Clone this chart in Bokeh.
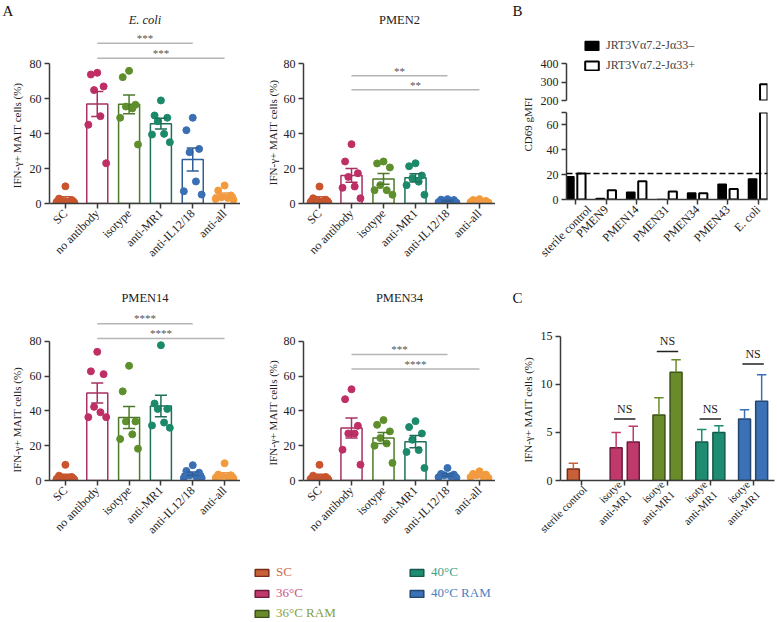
import numpy as np
from math import pi
from bokeh.plotting import figure
from bokeh.layouts import row, column
from bokeh.models import FactorRange, Range1d, Span, Legend, LegendItem, FixedTicker
from bokeh.core.properties import value
from bokeh.embed import file_html
from bokeh.resources import INLINE

FONT = "Liberation Serif"
AXIS_COL = "#3a3a3a"
TXT = "#222222"
NAN = float("nan")

# ---------------- Panel A data ----------------
conditions = ["SC", "no antibody", "isotype", "anti-MR1", "anti-IL12/18", "anti-all"]

ecoli_sc = [9.8, 2.8, 2.0, 1.5, 1.0, 0.8, 0.5]
ecoli_no_antibody = [74.7, 73.7, 66.9, 64.8, 49.9, 45.0, 23.0]
ecoli_isotype = [75.8, 72.2, 56.4, 55.4, 54.3, 49.0, 33.7]
ecoli_anti_mr1 = [58.9, 50.3, 49.0, 47.0, 39.8, 39.4, 35.0]
ecoli_anti_il12_18 = [49.0, 41.9, 31.2, 29.3, 12.6, 7.0, 5.1]
ecoli_anti_all = [10.3, 7.4, 4.6, 3.6, 3.2, 2.7, 2.1]
ecoli_sig = [("no antibody", "anti-IL12/18", 91.6, "***"),
             ("no antibody", "anti-all", 83.0, "***")]

pmen2_sc = [9.7, 3.0, 2.2, 1.6, 1.2, 0.8, 0.5]
pmen2_no_antibody = [33.9, 24.0, 17.3, 15.2, 9.7, 9.0, 3.0]
pmen2_isotype = [24.0, 22.9, 20.6, 10.5, 7.6, 7.6, 5.0]
pmen2_anti_mr1 = [23.0, 21.3, 16.0, 14.5, 12.5, 10.5, 5.0]
pmen2_anti_il12_18 = [2.5, 2.2, 2.0, 1.5, 1.0, 0.8, 0.5]
pmen2_anti_all = [2.5, 2.0, 1.5, 1.2, 1.0, 0.8, 0.5]
pmen2_sig = [("no antibody", "anti-IL12/18", 73.0, "**"),
             ("no antibody", "anti-all", 65.0, "**")]

pmen14_sc = [9.0, 2.8, 2.0, 1.5, 1.0, 0.8, 0.5]
pmen14_no_antibody = [73.9, 62.7, 61.1, 42.3, 39.2, 36.4, 36.4]
pmen14_isotype = [65.9, 51.2, 33.9, 33.9, 26.5, 23.8, 18.3]
pmen14_anti_mr1 = [77.7, 44.2, 41.1, 41.1, 33.3, 31.6, 30.3]
pmen14_anti_il12_18 = [8.8, 5.5, 4.5, 3.0, 2.5, 1.5, 1.5]
pmen14_anti_all = [9.9, 3.4, 3.0, 2.5, 1.9, 1.5, 1.1]
pmen14_sig = [("no antibody", "anti-IL12/18", 90.1, "****"),
              ("no antibody", "anti-all", 81.5, "****")]

pmen34_sc = [9.0, 2.8, 2.0, 1.5, 1.0, 0.8, 0.5]
pmen34_no_antibody = [52.4, 46.7, 31.4, 27.0, 27.0, 17.7, 9.1]
pmen34_isotype = [34.7, 32.0, 28.2, 24.4, 21.3, 20.0, 10.1]
pmen34_anti_mr1 = [34.1, 30.7, 27.0, 23.4, 17.5, 16.4, 7.2]
pmen34_anti_il12_18 = [7.2, 3.8, 3.4, 3.0, 2.5, 1.9, 1.5]
pmen34_anti_all = [5.3, 3.8, 3.4, 3.0, 2.5, 1.9, 1.5]
pmen34_sig = [("no antibody", "anti-IL12/18", 72.4, "***"),
              ("no antibody", "anti-all", 64.0, "****")]

a_ticks = [0, 20, 40, 60, 80]
A_DOT = ["#c9542d", "#bf2f66", "#5f8f2c", "#1b8a6b", "#3a6fb4", "#f39b3c"]
A_LINE = ["#c4562f", "#a83064", "#4d7a2a", "#1f6f58", "#2f5f9a", "#ef9a4a"]
JITTER = [0.0, -0.2, 0.2, -0.1, 0.1, -0.28, 0.28]
Y_LABEL = "IFN-γ+ MAIT cells (%)"

# ---------------- Panel B data ----------------
b_strains = ["sterile control", "PMEN9", "PMEN14", "PMEN31", "PMEN34", "PMEN43", "E. coli"]
b_negative = [18.4, 0.8, 5.9, 0.0, 5.3, 12.3, 16.5]
b_positive = [21.0, 7.5, 14.7, 6.4, 5.0, 8.5, 288.0]
b_threshold = 21.0
b_low_ticks = [0, 20, 40, 60, 70]
b_high_ticks = [200, 300, 400]
b_break = 200

# ---------------- Panel C data ----------------
c_groups = ["sterile control", "36°C", "36°C RAM", "40°C", "40°C RAM"]
c_tick_labels = ["sterile control", "isotye\nanti-MR1", "isotye\nanti-MR1",
                 "isotye\nanti-MR1", "isotye\nanti-MR1"]
c_isotype = [1.2, 3.4, 6.8, 4.0, 6.4]
c_isotype_err = [0.6, 1.6, 1.8, 1.3, 0.95]
c_mr1_groups = ["36°C", "36°C RAM", "40°C", "40°C RAM"]
c_anti_mr1 = [4.0, 11.25, 5.0, 8.25]
c_anti_mr1_err = [1.65, 1.3, 0.7, 2.75]
c_ns = [("36°C", 6.4), ("36°C RAM", 13.4), ("40°C", 6.4), ("40°C RAM", 12.1)]
c_ticks = [0, 5, 10, 15]
C_FILL = ["#c8603a", "#c0396b", "#6a8b2c", "#1d8c70", "#3b71b6"]
C_LINE = ["#7a2a16", "#6d1b3d", "#3a5318", "#14594a", "#244670"]

legend_labels = ["SC", "36°C", "36°C RAM", "40°C", "40°C RAM"]
LEGEND_TEXT = ["#cd6b4c", "#d0507f", "#88a040", "#3f9f85", "#4a7fc2"]

# layout: shared borders per row so that plots in a row line up identically
ROW1_H, ROW1_TOP, ROW1_BOT = 286, 0, 83
ROW2_H, ROW2_TOP, ROW2_BOT = 258, 3, 63
LEG_H = 78


def style(p, size="12px"):
    p.xgrid.visible = False
    p.ygrid.visible = False
    p.outline_line_color = None
    p.background_fill_color = "white"
    p.border_fill_color = "white"
    for ax in p.axis:
        ax.axis_line_color = AXIS_COL
        ax.axis_line_width = 1.5
        ax.major_tick_line_color = AXIS_COL
        ax.major_tick_line_width = 1.5
        ax.major_tick_in = 0
        ax.major_tick_out = 5
        ax.minor_tick_line_color = None
        ax.major_label_text_font = FONT
        ax.major_label_text_font_size = size
        ax.major_label_text_color = TXT
        ax.major_label_standoff = 3


def gutter(w, h, top, bot, texts):
    """Narrow text-only strip holding panel letters and y-axis titles (1 unit = 1 px)."""
    g = figure(width=w, height=h, x_range=Range1d(0, w), y_range=Range1d(bot, h - top),
               output_backend="svg", toolbar_location=None,
               min_border_left=0, min_border_right=0, min_border_top=top, min_border_bottom=bot,
               x_axis_location=None, y_axis_location=None)
    g.outline_line_color = None
    g.grid.visible = False
    for txt, x, y_from_top, kind in texts:
        if kind == "letter":
            g.text(x=[x], y=[h - y_from_top], text=[txt], text_font=value(FONT),
                   text_font_size="15px", text_align="left", text_baseline="middle",
                   text_color="#111111")
        else:
            g.text(x=[x], y=[h - y_from_top], text=[txt], angle=pi / 2,
                   text_font=value(FONT), text_font_size="11px", text_align="center",
                   text_baseline="middle", text_color=TXT)
    return g


def panel_a(title, italic, vals, sig, width, height, left, top, bottom, ymax):
    p = figure(x_range=FactorRange(factors=conditions, range_padding=0),
               y_range=Range1d(0, ymax), width=width, height=height,
               output_backend="svg", toolbar_location=None,
               min_border_left=left, min_border_right=0,
               min_border_top=top, min_border_bottom=bottom)
    style(p)
    means = [float(np.mean(v)) for v in vals]
    sems = [float(np.std(v, ddof=1) / np.sqrt(len(v))) for v in vals]
    p.vbar(x=conditions, top=means, width=0.66, fill_color="white",
           line_color=A_LINE, line_width=1.5)
    xs, ys, cs = [], [], []
    for cat, v, col in zip(conditions, vals, A_DOT):
        order = np.argsort(v)[::-1]
        for rank, idx in enumerate(order):
            xs.append((cat, JITTER[rank]))
            ys.append(v[idx])
            cs.append(col)
    p.scatter(x=xs, y=ys, size=7, fill_color=cs, line_color=cs)
    lo = [m - s for m, s in zip(means, sems)]
    hi = [m + s for m, s in zip(means, sems)]
    p.segment(x0=[(c, 0) for c in conditions], x1=[(c, 0) for c in conditions],
              y0=lo, y1=hi, line_color=A_LINE, line_width=1.5)
    for yy in (lo, hi):
        p.segment(x0=[(c, -0.19) for c in conditions], x1=[(c, 0.19) for c in conditions],
                  y0=yy, y1=yy, line_color=A_LINE, line_width=1.5)
    for a, b, yv, stars in sig:
        ia, ib = conditions.index(a), conditions.index(b)
        p.segment(x0=[(a, 0)], x1=[(b, 0)], y0=[yv], y1=[yv],
                  line_color="#b5b5b5", line_width=1.5)
        p.text(x=[(a, (ib - ia) / 2)], y=[yv + 3.0], text=[stars],
               text_font=value(FONT), text_font_size="11px", text_color="#555555",
               text_align="center", text_baseline="middle")
    p.text(x=[("isotype", 0.5)], y=[104.6], text=[title], text_font=value(FONT),
           text_font_size="12.5px", text_font_style="italic" if italic else "normal",
           text_align="center", text_baseline="middle", text_color=TXT)
    p.yaxis.bounds = (0, 80)
    p.yaxis.ticker = FixedTicker(ticks=a_ticks)
    p.xaxis.major_label_orientation = pi / 4
    return p


PX_PER_PCT = 1.75
ymax1 = (ROW1_H - ROW1_TOP - ROW1_BOT) / PX_PER_PCT
ymax2 = (ROW2_H - ROW2_TOP - ROW2_BOT) / PX_PER_PCT

A1 = panel_a("E. coli", True,
             [ecoli_sc, ecoli_no_antibody, ecoli_isotype, ecoli_anti_mr1, ecoli_anti_il12_18, ecoli_anti_all],
             ecoli_sig, 214, ROW1_H, 22, ROW1_TOP, ROW1_BOT, ymax1)
A2 = panel_a("PMEN2", False,
             [pmen2_sc, pmen2_no_antibody, pmen2_isotype, pmen2_anti_mr1, pmen2_anti_il12_18, pmen2_anti_all],
             pmen2_sig, 215, ROW1_H, 23, ROW1_TOP, ROW1_BOT, ymax1)
A3 = panel_a("PMEN14", False,
             [pmen14_sc, pmen14_no_antibody, pmen14_isotype, pmen14_anti_mr1, pmen14_anti_il12_18, pmen14_anti_all],
             pmen14_sig, 214, ROW2_H, 22, ROW2_TOP, ROW2_BOT, ymax2)
A4 = panel_a("PMEN34", False,
             [pmen34_sc, pmen34_no_antibody, pmen34_isotype, pmen34_anti_mr1, pmen34_anti_il12_18, pmen34_anti_all],
             pmen34_sig, 215, ROW2_H, 23, ROW2_TOP, ROW2_BOT, ymax2)

# ---------------- Panel B (broken axis: two stacked plots) ----------------
b_xr = FactorRange(factors=b_strains, range_padding=-0.2, range_padding_units="absolute")

B_up = figure(x_range=b_xr, y_range=Range1d(200, 578.4), width=240, height=106,
              output_backend="svg", toolbar_location=None, x_axis_location=None,
              min_border_left=26, min_border_right=10, min_border_top=30, min_border_bottom=6)
style(B_up)
B_up.yaxis.bounds = (200, 400)
B_up.yaxis.ticker = FixedTicker(ticks=b_high_ticks)
up_neg = [v if v > b_break else NAN for v in b_negative]
up_pos = [v if v > b_break else NAN for v in b_positive]
rn_up = B_up.vbar(x=[(s, -0.19) for s in b_strains], top=up_neg, width=0.27,
                  fill_color="black", line_color="black", line_width=1.5)
rp_up = B_up.vbar(x=[(s, 0.19) for s in b_strains], top=up_pos, width=0.27,
                  fill_color="white", line_color="black", line_width=2)
B_up.add_layout(Legend(items=[LegendItem(label="JRT3Vα7.2-Jα33–", renderers=[rn_up]),
                              LegendItem(label="JRT3Vα7.2-Jα33+", renderers=[rp_up])],
                       location=(17, 27), padding=0, margin=0, spacing=4,
                       glyph_width=17, glyph_height=11, label_height=16, label_standoff=6,
                       label_text_font=FONT, label_text_font_size="12px",
                       border_line_color=None, background_fill_alpha=0))

B_low = figure(x_range=b_xr, y_range=Range1d(0, 70), width=240, height=180,
               output_backend="svg", toolbar_location=None,
               min_border_left=26, min_border_right=10, min_border_top=6, min_border_bottom=87)
style(B_low)
B_low.yaxis.bounds = (0, 70)
B_low.yaxis.ticker = FixedTicker(ticks=b_low_ticks)
B_low.yaxis.major_label_overrides = {70: ""}
B_low.vbar(x=[(s, -0.19) for s in b_strains], top=b_negative, width=0.27,
           fill_color="black", line_color="black", line_width=1.5)
B_low.vbar(x=[(s, 0.19) for s in b_strains], top=b_positive, width=0.27,
           fill_color="white", line_color="black", line_width=2)
B_low.add_layout(Span(location=b_threshold, dimension="width", line_color="black",
                      line_width=1.5, line_dash="6 3"))
B_low.xaxis.major_label_orientation = pi / 4

# ---------------- Panel C ----------------
n_c = len(c_groups)
c_ymax = (ROW2_H - ROW2_TOP - ROW2_BOT) / 9.67
C = figure(x_range=Range1d(-0.5, n_c - 0.5), y_range=Range1d(0, c_ymax),
           width=240, height=ROW2_H, output_backend="svg", toolbar_location=None,
           min_border_left=22, min_border_right=3, min_border_top=ROW2_TOP,
           min_border_bottom=ROW2_BOT)
style(C)
C.yaxis.bounds = (0, 15)
C.yaxis.ticker = FixedTicker(ticks=c_ticks)
C.xaxis.ticker = FixedTicker(ticks=list(range(n_c)))
C.xaxis.major_label_overrides = {i: lab for i, lab in enumerate(c_tick_labels)}
C.xaxis.major_label_orientation = pi / 4
C.xaxis.major_label_text_font_size = "11px"
C.xaxis.major_label_standoff = 2
gi = {g: i for i, g in enumerate(c_groups)}
iso_x = [gi[g] - 0.2 for g in c_groups]
mr1_x = [gi[g] + 0.2 for g in c_mr1_groups]
mr1_fill = [C_FILL[gi[g]] for g in c_mr1_groups]
mr1_line = [C_LINE[gi[g]] for g in c_mr1_groups]
C.vbar(x=iso_x, top=c_isotype, width=0.28, fill_color=C_FILL, line_color=C_LINE, line_width=1.5)
C.vbar(x=mr1_x, top=c_anti_mr1, width=0.28, fill_color=mr1_fill, line_color=mr1_line, line_width=1.5)
iso_hi = [v + e for v, e in zip(c_isotype, c_isotype_err)]
mr1_hi = [v + e for v, e in zip(c_anti_mr1, c_anti_mr1_err)]
C.segment(x0=iso_x, x1=iso_x, y0=c_isotype, y1=iso_hi, line_color=C_FILL, line_width=1.5)
C.segment(x0=[x - 0.11 for x in iso_x], x1=[x + 0.11 for x in iso_x],
          y0=iso_hi, y1=iso_hi, line_color=C_FILL, line_width=1.5)
C.segment(x0=mr1_x, x1=mr1_x, y0=c_anti_mr1, y1=mr1_hi, line_color=mr1_fill, line_width=1.5)
C.segment(x0=[x - 0.11 for x in mr1_x], x1=[x + 0.11 for x in mr1_x],
          y0=mr1_hi, y1=mr1_hi, line_color=mr1_fill, line_width=1.5)
ns_x = [gi[g] for g, _ in c_ns]
ns_y = [yv for _, yv in c_ns]
C.segment(x0=[x - 0.25 for x in ns_x], x1=[x + 0.25 for x in ns_x], y0=ns_y, y1=ns_y,
          line_color=TXT, line_width=1.5)
C.text(x=ns_x, y=[y + 0.35 for y in ns_y], text=["NS"] * len(ns_x), text_font=value(FONT),
       text_font_size="12px", text_align="center", text_baseline="bottom", text_color=TXT)

# ---------------- Gutters (panel letters + y-axis titles) ----------------
G1a = gutter(26, ROW1_H, ROW1_TOP, ROW1_BOT, [("A", 2, 10, "letter"), (Y_LABEL, 16, 135, "ylab")])
G1b = gutter(40, ROW1_H, ROW1_TOP, ROW1_BOT, [(Y_LABEL, 32, 132, "ylab")])
G1c = gutter(42, ROW1_H, ROW1_TOP, ROW1_BOT, [("B", 17, 10, "letter"), ("CD69 gMFI", 32, 124, "ylab")])
G2a = gutter(26, ROW2_H, ROW2_TOP, ROW2_BOT, [(Y_LABEL, 16, 134, "ylab")])
G2b = gutter(40, ROW2_H, ROW2_TOP, ROW2_BOT, [(Y_LABEL, 32, 127, "ylab")])
G2c = gutter(42, ROW2_H, ROW2_TOP, ROW2_BOT, [("C", 17, 12, "letter"), (Y_LABEL, 32, 124, "ylab")])

# ---------------- Bottom legend ----------------
L = figure(width=777, height=LEG_H, x_range=(0, 1), y_range=(0, 1), output_backend="svg",
           toolbar_location=None, min_border=0, x_axis_location=None, y_axis_location=None)
L.outline_line_color = None
L.grid.visible = False
leg_pos = [(253, 42), (253, 21), (253, 1), (408, 42), (408, 21)]
for lab, fc, lc, tc, loc in zip(legend_labels, C_FILL, C_LINE, LEGEND_TEXT, leg_pos):
    r = L.vbar(x=[NAN], top=[NAN], width=0.1, fill_color=fc, line_color=lc, line_width=1.5)
    L.add_layout(Legend(items=[LegendItem(label=lab, renderers=[r])], location=loc,
                        padding=0, margin=0, glyph_width=17, glyph_height=9, label_height=14,
                        label_standoff=6, label_text_font=FONT, label_text_font_size="13px",
                        label_text_color=tc, border_line_color=None, background_fill_alpha=0))

layout = column(row(G1a, A1, G1b, A2, G1c, column(B_up, B_low)),
                row(G2a, A3, G2b, A4, G2c, C),
                L)
open("out.html", "w").write(file_html(layout, INLINE))
